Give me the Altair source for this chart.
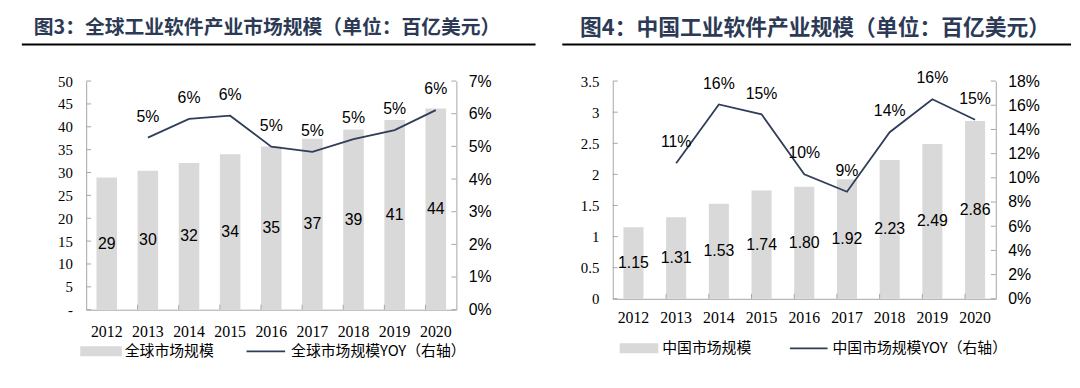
import altair as alt
import pandas as pd

years = ["2012", "2013", "2014", "2015", "2016", "2017", "2018", "2019", "2020"]

global_size = [28.9, 30.4, 32.1, 34.0, 35.7, 37.4, 39.4, 41.5, 44.0]
global_size_labels = ["29", "30", "32", "34", "35", "37", "39", "41", "44"]
global_yoy = [None, 0.0527, 0.0584, 0.0594, 0.0499, 0.0483, 0.0522, 0.0550, 0.0611]
global_yoy_labels = ["", "5%", "6%", "6%", "5%", "5%", "5%", "5%", "6%"]

china_size = [1.15, 1.31, 1.53, 1.74, 1.80, 1.92, 2.23, 2.49, 2.86]
china_size_labels = ["1.15", "1.31", "1.53", "1.74", "1.80", "1.92", "2.23", "2.49", "2.86"]
china_yoy = [None, 0.112, 0.1607, 0.1525, 0.103, 0.0885, 0.1377, 0.165, 0.148]
china_yoy_labels = ["", "11%", "16%", "15%", "10%", "9%", "14%", "16%", "15%"]

global_ticks = [0, 5, 10, 15, 20, 25, 30, 35, 40, 45, 50]
global_yoy_ticks = [0, 0.01, 0.02, 0.03, 0.04, 0.05, 0.06, 0.07]
china_ticks = [0, 0.5, 1, 1.5, 2, 2.5, 3, 3.5]
china_yoy_ticks = [0, 0.02, 0.04, 0.06, 0.08, 0.10, 0.12, 0.14, 0.16, 0.18]

title_left = "图3：全球工业软件产业市场规模（单位：百亿美元）"
title_right = "图4：中国工业软件产业规模（单位：百亿美元）"
legend_left = ["全球市场规模", "全球市场规模YOY（右轴）"]
legend_right = ["中国市场规模", "中国市场规模YOY（右轴）"]

BAR = "#d9d9d9"
LINE = "#2f3d5a"
AXIS = "#a6a6a6"
TITLE_C = "#2c3a55"
CJK = "Noto Sans CJK SC"
SERIF = "Liberation Serif"
SANS = "Liberation Sans"


def panel(sizes, size_labels, yoy, yoy_labels, size_ticks, yoy_ticks, W, H,
          pad_inner, title, title_dx, title_size, rule_x1, rule_x2, legend,
          leg_pos, leg_y, xlab_pad, zero_dash):
    df = pd.DataFrame({"year": years, "size": sizes, "size_label": size_labels,
                       "yoy": yoy, "yoy_label": yoy_labels})
    dummy = pd.DataFrame({"a": [0]})
    xsc = alt.Scale(paddingInner=pad_inner, paddingOuter=0.25)
    xax = alt.Axis(title=None, labelAngle=0, ticks=False, domainColor=AXIS,
                   labelFont=SERIF, labelFontSize=16, labelColor="black",
                   labelPadding=xlab_pad)
    x = alt.X("year:O", scale=xsc, axis=xax)
    ysc = alt.Scale(domain=[size_ticks[0], size_ticks[-1]], nice=False)
    ysc2 = alt.Scale(domain=[yoy_ticks[0], yoy_ticks[-1]], nice=False)

    left_axis = dict(title=None, orient="left", values=size_ticks, ticks=False,
                     domainColor=AXIS, labelFont=SERIF, labelFontSize=15,
                     labelColor="black", labelPadding=14, format="~f")
    if zero_dash:
        left_axis["labelExpr"] = "datum.value == 0 ? '-' : datum.label"

    bars = alt.Chart(df).mark_bar(color=BAR).encode(
        x=x, y=alt.Y("size:Q", scale=ysc, axis=alt.Axis(**left_axis)))
    bar_text = alt.Chart(df).transform_calculate(mid="datum.size / 2").mark_text(
        font=SANS, fontSize=16, color="black").encode(
        x=x, y=alt.Y("mid:Q", scale=ysc, axis=None), text="size_label:N")
    line = alt.Chart(df).transform_filter("isValid(datum.yoy)").mark_line(
        color=LINE, strokeWidth=1.8).encode(
        x=x, y=alt.Y("yoy:Q", scale=ysc2, axis=alt.Axis(
            title=None, orient="right", values=yoy_ticks, format=".0%", ticks=False,
            domainColor=AXIS, labelFont=SANS, labelFontSize=16, labelColor="black",
            labelPadding=12)))
    line_text = alt.Chart(df).transform_filter("isValid(datum.yoy)").mark_text(
        font=SANS, fontSize=16, color="black", dy=-21).encode(
        x=x, y=alt.Y("yoy:Q", scale=ysc2, axis=None), text="yoy_label:N")
    lticks = alt.Chart(pd.DataFrame({"t": size_ticks})).mark_rule(color=AXIS).encode(
        y=alt.Y("t:Q", scale=ysc, axis=None), x=alt.value(0), x2=alt.value(5))
    rticks = alt.Chart(pd.DataFrame({"t": yoy_ticks})).mark_rule(color=AXIS).encode(
        y=alt.Y("t:Q", scale=ysc2, axis=None), x=alt.value(W - 5), x2=alt.value(W))
    xticks = alt.Chart(df).transform_filter("datum.year != '2012'").mark_rule(
        color=AXIS).encode(
        x=alt.X("year:O", scale=xsc, axis=xax, bandPosition=0),
        y=alt.value(H), y2=alt.value(H - 5))
    ttl = alt.Chart(dummy).mark_text(
        text=title, font=CJK, fontWeight="bold", fontSize=title_size, color=TITLE_C,
        align="left", baseline="middle").encode(x=alt.value(title_dx), y=alt.value(-54))
    uline = alt.Chart(dummy).mark_rule(color="black", strokeWidth=2).encode(
        x=alt.value(rule_x1), x2=alt.value(rule_x2), y=alt.value(-37))
    sw = alt.Chart(dummy).mark_rect(color=BAR).encode(
        x=alt.value(leg_pos[0]), x2=alt.value(leg_pos[1]),
        y=alt.value(leg_y - 5), y2=alt.value(leg_y + 5))
    t1 = alt.Chart(dummy).mark_text(
        text=legend[0], font=CJK, fontSize=15, color="black", align="left",
        baseline="middle").encode(x=alt.value(leg_pos[2]), y=alt.value(leg_y))
    lsw = alt.Chart(dummy).mark_rule(color=LINE, strokeWidth=1.8).encode(
        x=alt.value(leg_pos[3]), x2=alt.value(leg_pos[4]), y=alt.value(leg_y))
    t2 = alt.Chart(dummy).mark_text(
        text=legend[1], font=CJK, fontSize=15, color="black", align="left",
        baseline="middle").encode(x=alt.value(leg_pos[5]), y=alt.value(leg_y))
    return alt.layer(bars, bar_text, line, line_text, lticks, rticks, xticks,
                     ttl, uline, sw, t1, lsw, t2).resolve_scale(
        y="independent").properties(width=W, height=H)


left = panel(global_size, global_size_labels, global_yoy, global_yoy_labels,
             global_ticks, global_yoy_ticks, 374, 231, 0.5, title_left, -53, 20,
             -65, 454, legend_left, [-6, 36, 39, 162, 201, 207], 273, 14, True)
right = panel(china_size, china_size_labels, china_yoy, china_yoy_labels,
              china_ticks, china_yoy_ticks, 387, 220, 0.53, title_right, -33, 22,
              -51, 463, legend_right, [7, 46, 50, 179, 217, 222], 270, 11, False)

chart = alt.hconcat(left, right, spacing=25).properties(
    padding={"left": 13, "top": 7, "right": 0, "bottom": 0}
).configure_view(stroke=None).configure_axis(grid=False)

chart.save("out.html", embed_options={"renderer": "svg", "actions": False})
